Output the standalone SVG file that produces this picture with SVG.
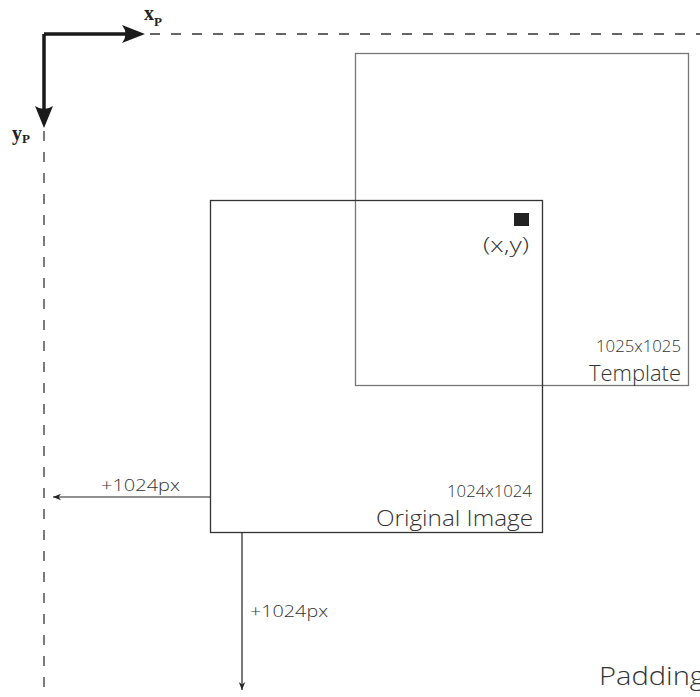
<svg xmlns="http://www.w3.org/2000/svg" width="700" height="697" viewBox="0 0 700 697">
<defs>
<style>
.t{font-family:"Open Sans","Liberation Sans",sans-serif;font-weight:300;fill:#333}
.ax{font-family:"Liberation Serif",serif;font-weight:bold;fill:#222}
.dash{stroke:#333;stroke-width:1.3;stroke-dasharray:10 11;fill:none}
.thin{stroke:#222;stroke-width:1.2;fill:none}
</style>
<marker id="sa" viewBox="0 0 10 10" refX="10" refY="5" markerWidth="8" markerHeight="8" markerUnits="userSpaceOnUse" orient="auto">
<path d="M0,1 L10,5 L0,9 L3,5 Z" fill="#222"/>
</marker>
</defs>
<rect width="700" height="697" fill="#fff"/>
<g id="axes">
<line class="dash" x1="150" y1="34" x2="700" y2="34"/>
<line class="dash" x1="44" y1="131" x2="44" y2="697"/>
<path d="M44,34 H130 M44,34 V112" stroke="#1a1a1a" stroke-width="3.5" fill="none"/>
<path d="M145,34 L122,25 Q129,34 122,43 Z" fill="#1a1a1a"/>
<path d="M44,128 L35,106 Q44,112 53,106 Z" fill="#1a1a1a"/>
<text class="ax" x="144" y="20" font-size="20">x<tspan font-size="13" dy="6">P</tspan></text>
<text class="ax" x="12" y="140" font-size="20">y<tspan font-size="13" dy="3">P</tspan></text>
</g>
<g id="template">
<rect x="355.5" y="53.5" width="333" height="332" fill="none" stroke="#777" stroke-width="1.3"/>
<text class="t" x="596" y="352" font-size="16" textLength="85" lengthAdjust="spacingAndGlyphs">1025x1025</text>
<text class="t" x="589" y="381" font-size="22" textLength="92" lengthAdjust="spacingAndGlyphs">Template</text>
</g>
<g id="original">
<rect x="210.5" y="200.5" width="332" height="332" fill="none" stroke="#333" stroke-width="1.3"/>
<rect x="514" y="213" width="15" height="13" fill="#222"/>
<text class="t" x="483" y="252" font-size="20" textLength="46" lengthAdjust="spacingAndGlyphs">(x,y)</text>
<text class="t" x="447" y="497" font-size="16" textLength="85" lengthAdjust="spacingAndGlyphs">1024x1024</text>
<text class="t" x="376" y="526" font-size="22" textLength="157" lengthAdjust="spacingAndGlyphs">Original Image</text>
</g>
<g id="connectors">
<line class="thin" x1="210" y1="497" x2="53" y2="497" marker-end="url(#sa)"/>
<line class="thin" x1="242" y1="533" x2="242" y2="690" marker-end="url(#sa)"/>
</g>
<g id="labels">
<text class="t" x="101" y="491" font-size="17" textLength="79" lengthAdjust="spacingAndGlyphs">+1024px</text>
<text class="t" x="250" y="617" font-size="17" textLength="78" lengthAdjust="spacingAndGlyphs">+1024px</text>
<text class="t" x="599" y="685" font-size="25" textLength="106" lengthAdjust="spacingAndGlyphs">Padding</text>
</g>
</svg>
